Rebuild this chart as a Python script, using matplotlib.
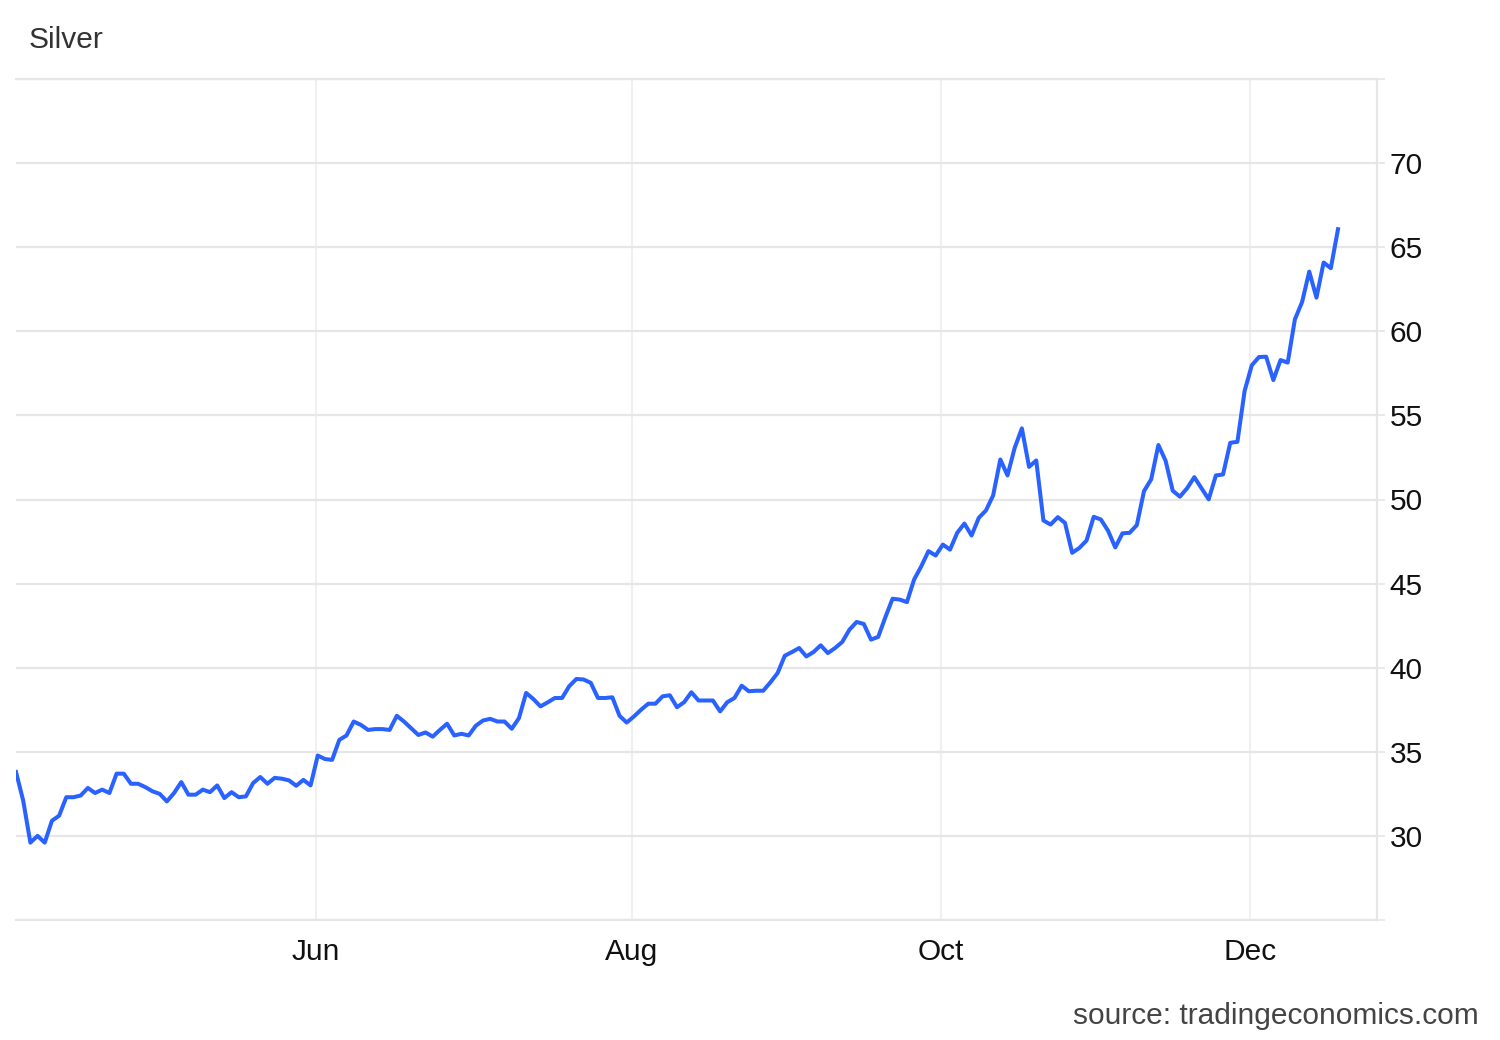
# Silver price chart, tradingeconomics style
import numpy as np
import pandas as pd
import matplotlib
matplotlib.use('Agg')
import matplotlib.pyplot as plt

plt.rcParams['font.family'] = ['Liberation Sans', 'DejaVu Sans']

# trading days (weekdays, Good Friday skipped)
dates = pd.bdate_range('2025-04-02', '2025-12-17')
dates = dates[dates != pd.Timestamp('2025-04-18')]

prices = [
    33.8, 32.1, 29.6, 30.0, 29.6, 30.9, 31.2, 32.3, 32.3, 32.4,
    32.85, 32.55, 32.75, 32.55, 33.7, 33.7, 33.1, 33.1, 32.9, 32.65,
    32.5, 32.05, 32.55, 33.2, 32.45, 32.45, 32.75, 32.6, 33.0, 32.25,
    32.6, 32.3, 32.35, 33.14, 33.5, 33.1, 33.45, 33.4, 33.3, 32.98,
    33.33, 33.0, 34.78, 34.57, 34.52, 35.71, 35.97, 36.8, 36.6, 36.3,
    36.35, 36.35, 36.3, 37.14, 36.8, 36.4, 36.0, 36.15, 35.9, 36.3,
    36.67, 35.97, 36.07, 35.97, 36.55, 36.86, 36.96, 36.8, 36.8, 36.37,
    37.0, 38.5, 38.14, 37.7, 37.94, 38.2, 38.2, 38.9, 39.33, 39.3,
    39.1, 38.2, 38.2, 38.24, 37.14, 36.74, 37.1, 37.5, 37.86, 37.86,
    38.3, 38.36, 37.65, 37.95, 38.54, 38.05, 38.05, 38.05, 37.4, 37.95,
    38.2, 38.93, 38.6, 38.63, 38.63, 39.13, 39.68, 40.71, 40.93, 41.17,
    40.67, 40.93, 41.33, 40.87, 41.17, 41.53, 42.26, 42.72, 42.6, 41.67,
    41.83, 43.0, 44.1, 44.05, 43.9, 45.24, 46.03, 46.93, 46.67, 47.32,
    47.02, 48.02, 48.57, 47.86, 48.91, 49.35, 50.24, 52.38, 51.43, 53.07,
    54.23, 51.94, 52.32, 48.75, 48.51, 48.95, 48.61, 46.83, 47.12, 47.56,
    48.97, 48.81, 48.14, 47.15, 47.99, 48.02, 48.48, 50.5, 51.2, 53.24,
    52.31, 50.52, 50.17, 50.67, 51.33, 50.67, 50.01, 51.43, 51.49, 53.37,
    53.43, 56.45, 57.98, 58.47, 58.49, 57.1, 58.29, 58.14, 60.71, 61.74,
    63.55, 62.0, 64.09, 63.75, 66.07,
]

month_starts = ['2025-06-01', '2025-08-01', '2025-10-01', '2025-12-01']
month_labels = ['Jun', 'Aug', 'Oct', 'Dec']
y_ticks = [25, 30, 35, 40, 45, 50, 55, 60, 65, 70, 75]

x = np.arange(len(prices))
tick_pos = [int(np.argmax(dates >= pd.Timestamp(m))) - 0.3 for m in month_starts]

fig = plt.figure(figsize=(15, 10.4), dpi=100)
ax = fig.add_axes([16 / 1500, 1 - 920 / 1040, (1377 - 16) / 1500, (920 - 79) / 1040])

grid_c = '#e6e6e6'
for p in tick_pos:
    ax.axvline(p, color='#eef0f4', lw=1.5, zorder=0)
ax.grid(axis='y', color=grid_c, lw=1.6, zorder=0)

ax.plot(x, prices, color='#2962ff', lw=2.9, solid_joinstyle='round', zorder=3)

ax.set_xlim(0, (1377 - 16) / ((1338 - 16) / (len(prices) - 1)))
ax.set_ylim(25, 75)

ax.yaxis.tick_right()
ax.set_yticks(y_ticks)
ax.set_yticklabels(['' if v in (25, 75) else str(v) for v in y_ticks])
ax.tick_params(axis='y', length=6, width=1.2, color=grid_c, pad=3,
               labelsize=21.5, labelcolor='#111111')

ax.set_xticks(tick_pos)
ax.set_xticklabels(month_labels)
ax.tick_params(axis='x', length=0, pad=13, labelsize=21.5, labelcolor='#111111')

ax.spines['left'].set_visible(False)
for s in ['top', 'bottom', 'right']:
    ax.spines[s].set_color(grid_c)
    ax.spines[s].set_linewidth(1.6)

fig.text(29 / 1500, 1 - 40 / 1040, 'Silver', fontsize=21.5, color='#333333', va='center')
fig.text(1479 / 1500, 1 - 1016 / 1040, 'source: tradingeconomics.com', fontsize=21.5,
         color='#444444', ha='right', va='center')

fig.savefig('out.png', dpi=100)
